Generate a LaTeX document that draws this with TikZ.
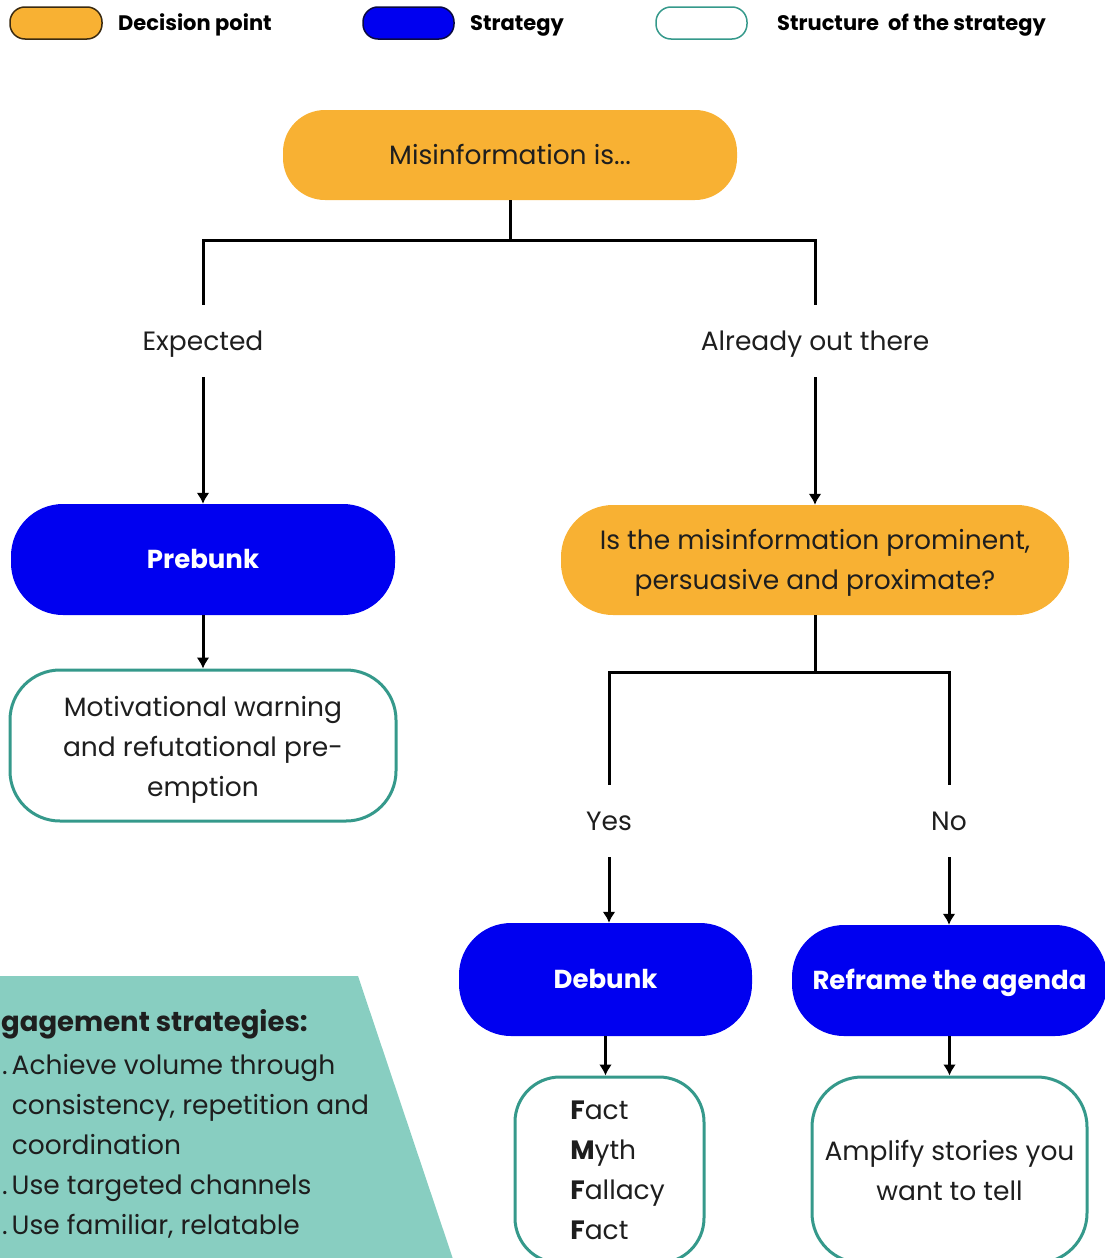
\documentclass[tikz,border=0pt]{standalone}
\usepackage{fontspec}
\setmainfont{Poppins}
\usetikzlibrary{arrows.meta}
\definecolor{dorange}{HTML}{F8B133}
\definecolor{sblue}{HTML}{0000F0}
\definecolor{steal}{HTML}{35998B}
\definecolor{tfill}{HTML}{88CEC1}
\definecolor{ink}{HTML}{1E1E1E}
\definecolor{legbrown}{HTML}{3A2A10}
\definecolor{legnavy}{HTML}{0A0A40}
\begin{document}
\begin{tikzpicture}[x=1pt,y=-1pt,
  base/.style={rectangle, inner sep=0pt, align=center, text=ink,
    font=\fontsize{26.5}{40}\selectfont},
  oneline/.style={text height=20pt, text depth=2pt},
  decision/.style={base, fill=dorange},
  strategy/.style={base, oneline, fill=sblue, text=white,
    font=\fontsize{26}{40}\selectfont\bfseries},
  structure/.style={base, draw=steal, line width=3pt, fill=white},
  lbl/.style={base, oneline, minimum height=72, minimum width=40},
  legtext/.style={anchor=west, inner sep=0pt, text=black, text height=15pt, text depth=1pt,
    font=\fontsize{21}{24}\selectfont\bfseries},
  eng/.style={anchor=base west, inner sep=0pt, text=ink,
    font=\fontsize{26.5}{40}\selectfont},
  conn/.style={line width=3pt, draw=black},
  arr/.style={conn, -{Latex[length=11pt,width=13pt]}}]
\useasboundingbox (0,0) rectangle (1105,1258);
\clip (0,0) rectangle (1105,1258);

% legend
\node[decision, draw=legbrown, line width=1.5pt, minimum width=92, minimum height=32, rounded corners=15] (lg1) at (56,23) {};
\node[legtext] (lt1) at (118,23) {Decision point};
\node[base, fill=sblue, draw=legnavy, line width=1.5pt, minimum width=91, minimum height=32, rounded corners=15] (lg2) at (408.5,23) {};
\node[legtext] (lt2) at (470,23) {Strategy};
\node[base, fill=white, draw=steal, line width=1.5pt, minimum width=91, minimum height=32, rounded corners=15] (lg3) at (701.5,23) {};
\node[legtext] (lt3) at (777,23) {Structure\ \ of the strategy};

% engagement panel
\fill[tfill] (-5,976) -- (358,976) -- (455,1265) -- (-5,1265) -- cycle;
\node[eng, font=\fontsize{27.5}{40}\selectfont\bfseries] (e0) at (1,1031) {gagement strategies:};
\node[eng] (e1) at (2,1074) {.\kern4pt Achieve volume through};
\node[eng] (e2) at (2,1114) {\hphantom{.}\kern4pt consistency, repetition and};
\node[eng] (e3) at (2,1154) {\hphantom{.}\kern4pt coordination};
\node[eng] (e4) at (2,1194) {.\kern4pt Use targeted channels};
\node[eng] (e5) at (2,1234) {.\kern4pt Use familiar, relatable};

% main nodes
\node[decision, oneline, minimum width=454, minimum height=90, rounded corners=42] (mis) at (510,155) {Misinformation is...};
\node[lbl] (exp) at (203,341) {Expected};
\node[lbl] (out) at (815,341) {Already out there};
\node[strategy, minimum width=384, minimum height=111, rounded corners=52] (pre) at (203,559.5) {Prebunk};
\node[structure, minimum width=386, minimum height=151, rounded corners=50] (mot) at (203,745.5) {\rule{0pt}{28pt}Motivational warning\\and refutational pre-\\emption};
\node[decision, minimum width=508, minimum height=110, rounded corners=52] (dec) at (815,560) {\rule{0pt}{26pt}Is the misinformation prominent,\\persuasive and proximate?};
\node[lbl] (yes) at (609,821) {Yes};
\node[lbl] (no) at (949,821) {No};
\node[strategy, minimum width=293, minimum height=113, rounded corners=52] (deb) at (605.5,979.5) {Debunk};
\node[strategy, minimum width=315, minimum height=111, rounded corners=52] (ref) at (949.5,980.5) {Reframe the agenda};
\node[structure, align=left, minimum width=189, minimum height=186, rounded corners=45] (fmf) at (609.5,1170) {\hspace*{16pt}\textbf{F}act\\\hspace*{16pt}\textbf{M}yth\\\hspace*{16pt}\textbf{F}allacy\\\hspace*{16pt}\textbf{F}act};
\node[structure, minimum width=275, minimum height=186, rounded corners=50] (amp) at (949.5,1170) {Amplify stories you\\want to tell};

% connectors
\coordinate (s1) at (mis.south |- 0,240);
\draw[conn] (mis.south) -- (s1);
\draw[conn] (exp.north) -- (exp.north |- s1) -- (out.north |- s1) -- (out.north);
\draw[arr] (exp.south) -- (pre.north);
\draw[arr] (out.south) -- (dec.north);
\draw[arr] (pre.south) -- (mot.north);
\coordinate (s2) at (dec.south |- 0,672);
\draw[conn] (dec.south) -- (s2);
\draw[conn] (yes.north) -- (yes.north |- s2) -- (no.north |- s2) -- (no.north);
\draw[arr] (yes.south) -- (yes.south |- deb.north);
\draw[arr] (no.south) -- (no.south |- ref.north);
\draw[arr] (deb.south) -- (deb.south |- fmf.north);
\draw[arr] (ref.south) -- (ref.south |- amp.north);
\end{tikzpicture}
\end{document}
